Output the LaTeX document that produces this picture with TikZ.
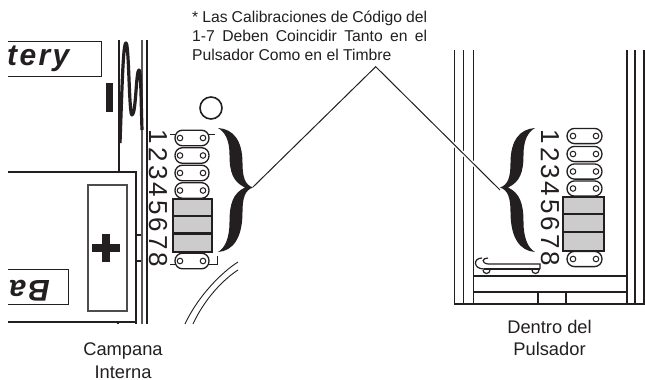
\documentclass[tikz,border=0pt]{standalone}
\usepackage{fontspec}
\setmainfont{Liberation Sans}
\newfontfamily\logofont[LetterSpace=8]{Liberation Sans}
\definecolor{ink}{HTML}{231F20}
\definecolor{swgray}{HTML}{CCCCCC}
\newcommand{\bracepath}{(218,128) .. controls (233,129) and (242.5,140) .. (242.5,163)
 .. controls (242.5,177) and (245,185) .. (253,187.5)
 .. controls (245,190) and (242.5,198) .. (242.5,212)
 .. controls (242.5,238) and (233,251) .. (218,252)
 .. controls (225,248) and (229.5,238) .. (229.5,222)
 .. controls (229.5,204) and (233,193) .. (245,187.5)
 .. controls (233,182) and (229.5,172) .. (229.5,155)
 .. controls (229.5,140) and (225,132) .. (218,128) -- cycle}
\tikzset{
 x=1pt,y=-1pt,
 wall/.style={draw=ink,line width=1.6pt},
 heavy/.style={draw=ink,line width=2.2pt},
 jumper/.style={draw=ink,line width=1.3pt,rounded corners=7.5pt,fill=white},
 hole/.style={draw=ink,line width=1pt,fill=white},
 digit/.style={font=\fontsize{26}{26}\selectfont,text=ink,rotate=-90,inner sep=0pt},
 caption/.style={font=\fontsize{18.3}{22.5}\selectfont,text=ink,align=center,inner sep=0pt},
 note/.style={font=\fontsize{15.7}{19}\selectfont,text=ink,align=left,inner sep=0pt,anchor=north west},
 logo/.style={font=\logofont\fontsize{30}{30}\selectfont\bfseries\itshape,text=ink,inner sep=0pt},
 leader/.style={draw=ink,line width=1pt},
 halo/.style={draw=white,line width=4pt},
}
\begin{document}
\begin{tikzpicture}
\useasboundingbox (0,0) rectangle (645,380);
\fill[white] (0,0) rectangle (645,380);
% ---- left: battery compartment
\begin{scope}
\clip (8,0) rectangle (645,380);
\draw[draw=ink,line width=1pt] (0,41.7) -- (101,41.7) -- (101,76.7) -- (0,76.7);
\node[logo,anchor=base west] (tery) at (7,65) {tery};
\draw[draw=ink,line width=1pt] (0,269) -- (68,269) -- (68,304) -- (0,304);
\node[logo,anchor=base west,rotate=180] (ba) at (50,280) {Ba};
\draw[heavy] (0,172) -- (136,172) -- (136,324);
\draw[heavy] (0,322) -- (136,322);
\end{scope}
\fill[ink] (106,83) rectangle (113,112);
\draw[draw=ink,line width=2.8pt] (119,40) -- (119,172);
\draw[draw=ink,line width=2.2pt] (118,322) -- (118,324);
\draw[wall,draw=ink!75] (142,40) -- (142,324);
\draw[wall] (147,40) -- (147,324);
\draw[draw=ink,line width=3.2pt,line join=round]
 (120,143) .. controls (122,90) and (123,43) .. (126,43)
 .. controls (129,43) and (129,115) .. (132,115)
 .. controls (136,115) and (136,70) .. (139,70)
 .. controls (141,70) and (141,100) .. (142,130);
\draw[heavy] (136,235) -- (141,235) (136,261) -- (141,261);
\draw[draw=ink!80,line width=1.4pt] (88,185) rectangle (127,311);
\fill[ink] (92,244) rectangle (120,252);
\fill[ink] (102,234) rectangle (110,262);
% arcs
\draw[draw=ink,line width=.9pt] (238,262) .. controls (222,272) and (198,296) .. (185,324);
\draw[draw=ink,line width=.9pt] (238,270) .. controls (224,279) and (205,298) .. (193,324);
% circle
\draw[draw=ink,line width=1.6pt] (211,108) circle[radius=11pt];
% left jumpers and digits
\draw[draw=ink,line width=.9pt] (170,134) -- (215,134);
\draw[draw=ink,line width=.9pt] (170,264) -- (217,264) -- (217,256);
\foreach \n/\cy in {1/138,2/155.5,3/173,4/190.5,8/261}{
 \draw[jumper] (175,\cy-7.8) rectangle (209,\cy+7.8);
 \draw[hole] (180,\cy) circle[radius=2.8pt];
 \draw[hole] (203,\cy) circle[radius=2.8pt];
}
\draw[draw=ink,line width=2.2pt,fill=swgray] (173,199) rectangle (212,252);
\draw[draw=ink,line width=2.6pt] (173,216) -- (212,216) (173,233.5) -- (212,233.5);
\foreach \n/\cy in {1/137,2/155,3/173,4/190,5/208,6/225,7/243,8/260}{
 \node[digit] (ld\n) at (158,\cy) {\n};
}
% ---- right: push button housing
\foreach \xx in {454.3,463.3,473.3,626.7,635,644}{
 \draw[wall] (\xx,50) -- (\xx,304);
}
\draw[wall] (473.3,276) -- (626.7,276);
\draw[wall] (473.3,292) -- (626.7,292);
\draw[wall] (538,292) -- (538,304);
\draw[wall] (566,292) -- (566,304);
\draw[heavy] (454,304) -- (645,304);
\draw[draw=ink,line width=1.2pt] (488,258) .. controls (482,258) and (481,263) .. (488,264) -- (540,264) -- (540,269);
\draw[draw=ink,line width=1.2pt] (482,258) .. controls (473,258) and (473,269) .. (484,269);
\draw[draw=ink,line width=2pt] (484,268.5) -- (540,268.5);
\draw[draw=ink,line width=1.2pt,fill=white] (483,270) arc[start angle=180,end angle=360,radius=3.5pt];
\draw[draw=ink,line width=1.2pt,fill=white] (532,270) arc[start angle=180,end angle=360,radius=3.5pt];
\foreach \n/\cy in {1/136,2/154,3/171.5,4/188.5,8/259}{
 \draw[jumper] (567,\cy-7.6) rectangle (602,\cy+7.6);
 \draw[hole] (573,\cy) circle[radius=2.8pt];
 \draw[hole] (596,\cy) circle[radius=2.8pt];
}
\draw[draw=ink,line width=2.2pt,fill=swgray] (563,197) rectangle (604,251);
\draw[draw=ink,line width=2.6pt] (563,214) -- (604,214) (563,232) -- (604,232);
\foreach \n/\cy in {1/137,2/154.5,3/172,4/189,5/207,6/224,7/242,8/259}{
 \node[digit] (rd\n) at (550,\cy) {\n};
}
% ---- leaders, then braces
\coordinate (tipL) at (253,187);
\coordinate (apex) at (375.7,66.7);
\coordinate (tipR) at (500,190);
\draw[halo] (tipR) -- (apex);
\draw[leader] (tipL) -- (apex) -- (tipR);
\fill[ink] \bracepath;
\begin{scope}[xshift=753pt,xscale=-1]
\fill[ink] \bracepath;
\end{scope}
% ---- texts
\node[note] (noteA) at (192,10.5) {\makebox[235pt][s]{* Las Calibraciones de Código del}\\[0pt]
\makebox[235pt][s]{1-7 Deben Coincidir Tanto en el}\\[0pt]
Pulsador Como en el Timbre};
\node[caption] (campana) at (123,360.5) {Campana\\Interna};
\node[caption] (dentro) at (549.5,338) {Dentro del\\Pulsador};
\end{tikzpicture}
\end{document}
